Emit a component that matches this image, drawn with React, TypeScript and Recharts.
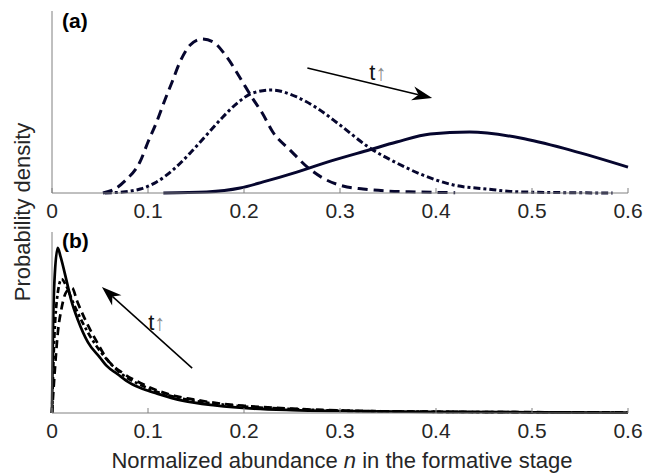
import React from "react";
import { LineChart, Line, XAxis, YAxis, ReferenceLine } from "recharts";

// x positions shared by both panels
const xTicks = [0, 0.1, 0.2, 0.3, 0.4, 0.5, 0.6];

// panel (a): three time steps
const aDashN = [0.053, 0.065, 0.076, 0.092, 0.1, 0.109, 0.118, 0.125, 0.133, 0.144, 0.156, 0.168, 0.182, 0.196, 0.208, 0.219, 0.23, 0.248, 0.266, 0.282, 0.303, 0.324, 0.349, 0.38, 0.42];
const aDashV = [0, 0.25, 0.8, 2.1, 3.36, 4.68, 6.2, 7.3, 8.6, 9.76, 10.15, 9.95, 8.97, 7.58, 6.33, 5.27, 4.02, 2.83, 1.71, 0.99, 0.46, 0.26, 0.13, 0.07, 0.02];

const aDotN = [0.055, 0.074, 0.092, 0.109, 0.126, 0.144, 0.161, 0.178, 0.193, 0.209, 0.229, 0.255, 0.276, 0.3, 0.331, 0.359, 0.386, 0.418, 0.453, 0.488, 0.584];
const aDotV = [0, 0.07, 0.26, 0.73, 1.52, 2.64, 3.82, 5.01, 5.93, 6.59, 6.79, 6.33, 5.6, 4.48, 2.97, 1.98, 1.19, 0.53, 0.26, 0.07, 0];

const aSolidN = [0.116, 0.161, 0.196, 0.22, 0.255, 0.29, 0.331, 0.359, 0.394, 0.435, 0.488, 0.54, 0.6];
const aSolidV = [0, 0.07, 0.33, 0.73, 1.38, 2.1, 2.85, 3.36, 3.89, 4.02, 3.63, 2.83, 1.71];

// panel (b)
const bDashN = [0, 0.003, 0.006, 0.01, 0.015, 0.021, 0.026, 0.036, 0.047, 0.057, 0.074, 0.092, 0.109, 0.13, 0.144, 0.17, 0.2, 0.25, 0.3, 0.4, 0.5, 0.6];
const bDashV = [0, 12, 22, 29, 33.5, 34.5, 31, 25, 19.5, 15, 11, 8.3, 6.3, 4.6, 3.9, 2.8, 2.0, 1.2, 0.7, 0.35, 0.22, 0.14];

const bDotN = [0, 0.002, 0.005, 0.01, 0.015, 0.022, 0.032, 0.043, 0.057, 0.074, 0.092, 0.109, 0.13, 0.16, 0.2, 0.25, 0.3, 0.4, 0.5, 0.6];
const bDotV = [0, 18, 31, 37, 35, 30.5, 24.9, 19.8, 14.8, 10.5, 7.8, 5.9, 4.3, 2.9, 1.8, 1.1, 0.65, 0.33, 0.2, 0.13];

const bSolidN = [0, 0.001, 0.003, 0.006, 0.009, 0.015, 0.02, 0.027, 0.0375, 0.05, 0.057, 0.068, 0.081, 0.095, 0.109, 0.136, 0.17, 0.21, 0.25, 0.3, 0.4, 0.5, 0.6];
const bSolidV = [0, 22, 38.7, 45.6, 43.1, 36.7, 31.2, 25.7, 19.5, 15.3, 13, 10.8, 8.3, 6.6, 5.4, 3.4, 2.1, 1.2, 0.8, 0.55, 0.3, 0.2, 0.12];

const pts = (n: number[], v: number[]) => n.map((x, i) => ({ n: x, v: v[i] }));

const FONT = "'Liberation Sans', Arial, Helvetica, sans-serif";
const TXT = "#262626";
const AXIS = "#808080";

const TickMark = (props: any) => {
  const { x, y, payload } = props;
  const axisY = y - 10;
  return (
    <g>
      <line x1={x} x2={x} y1={axisY} y2={axisY - 5} stroke={AXIS} strokeWidth={1} />
      <text x={x} y={y} dy="0.71em" textAnchor="middle" fontSize={21} fontFamily={FONT} fill={TXT}>
        {String(payload.value)}
      </text>
    </g>
  );
};

const arrowShape = (tx: number, ty: number) => (p: any) => {
  const { x1, y1, x2, y2 } = p;
  const a = Math.atan2(y2 - y1, x2 - x1);
  const L = 20;
  const w = 7;
  const bx = x2 - L * Math.cos(a);
  const by = y2 - L * Math.sin(a);
  const nx = x2 - L * 0.7 * Math.cos(a);
  const ny = y2 - L * 0.7 * Math.sin(a);
  const px = -Math.sin(a);
  const py = Math.cos(a);
  const head = `${x2},${y2} ${bx + px * w},${by + py * w} ${nx},${ny} ${bx - px * w},${by - py * w}`;
  return (
    <g>
      <line x1={x1} y1={y1} x2={nx} y2={ny} stroke="#000" strokeWidth={1.5} />
      <polygon points={head} fill="#000" />
      <text x={x1 + tx} y={y1 + ty} fontSize={22} fontFamily={FONT} fill="#111">
        t<tspan fill="#8a8a8a">↑</tspan>
      </text>
    </g>
  );
};

export default function App() {
  const navy = "#06062e";
  return (
    <div style={{ position: "absolute", left: 0, top: 0, width: 645, height: 476, background: "#fff" }}>
      <div style={{ position: "absolute", left: 0, top: 0 }}>
        <LineChart width={645} height={225} margin={{ top: 11, right: 17, bottom: 0, left: 0 }}>
          <XAxis
            type="number"
            dataKey="n"
            domain={[0, 0.6]}
            ticks={xTicks}
            tickLine={false}
            tickSize={0}
            tickMargin={10}
            height={32}
            axisLine={{ stroke: AXIS }}
            tick={<TickMark />}
          />
          <YAxis type="number" domain={[0, 12]} tick={false} tickLine={false} width={52} axisLine={{ stroke: AXIS }} />
          <Line data={pts(aDashN, aDashV)} dataKey="v" type="monotone" dot={false} stroke={navy} strokeWidth={3} strokeDasharray="10 6" isAnimationActive={false} />
          <Line data={pts(aDotN, aDotV)} dataKey="v" type="monotone" dot={false} stroke={navy} strokeWidth={3} strokeDasharray="7 3 3 3" isAnimationActive={false} />
          <Line data={pts(aSolidN, aSolidV)} dataKey="v" type="monotone" dot={false} stroke={navy} strokeWidth={3} isAnimationActive={false} />
          <ReferenceLine
            segment={[{ x: 0.266, y: 8.24 }, { x: 0.396, y: 6.26 }]}
            ifOverflow="visible"
            shape={arrowShape(62, 12)}
          />
        </LineChart>
      </div>
      <div style={{ position: "absolute", left: 0, top: 220 }}>
        <LineChart width={645} height={225} margin={{ top: 12, right: 17, bottom: 0, left: 0 }}>
          <XAxis
            type="number"
            dataKey="n"
            domain={[0, 0.6]}
            ticks={xTicks}
            tickLine={false}
            tickSize={0}
            tickMargin={10}
            height={32}
            axisLine={{ stroke: AXIS }}
            tick={<TickMark />}
          />
          <YAxis type="number" domain={[0, 50]} tick={false} tickLine={false} width={52} axisLine={{ stroke: AXIS }} />
          <Line data={pts(bDashN, bDashV)} dataKey="v" type="monotone" dot={false} stroke="#000" strokeWidth={2.7} strokeDasharray="8 5" isAnimationActive={false} />
          <Line data={pts(bDotN, bDotV)} dataKey="v" type="monotone" dot={false} stroke="#000" strokeWidth={2.7} strokeDasharray="6 3 3 3" isAnimationActive={false} />
          <Line data={pts(bSolidN, bSolidV)} dataKey="v" type="monotone" dot={false} stroke="#000" strokeWidth={2.7} isAnimationActive={false} />
          <ReferenceLine
            segment={[{ x: 0.146, y: 12.4 }, { x: 0.052, y: 34.8 }]}
            ifOverflow="visible"
            shape={arrowShape(-44, -38)}
          />
        </LineChart>
      </div>
      <svg width={645} height={476} style={{ position: "absolute", left: 0, top: 0, pointerEvents: "none" }}>
        <text x={62} y={28} fontSize={21} fontWeight="bold" fontFamily={FONT} fill="#000">(a)</text>
        <text x={62} y={248} fontSize={21} fontWeight="bold" fontFamily={FONT} fill="#000">(b)</text>
        <text
          x={0}
          y={0}
          transform="translate(30,212) rotate(-90)"
          textAnchor="middle"
          fontSize={22}
          fontFamily={FONT}
          fill={TXT}
        >
          Probability density
        </text>
        <text x={342} y={468} textAnchor="middle" fontSize={22} fontFamily={FONT} fill={TXT}>
          Normalized abundance <tspan fontStyle="italic">n</tspan> in the formative stage
        </text>
      </svg>
    </div>
  );
}
